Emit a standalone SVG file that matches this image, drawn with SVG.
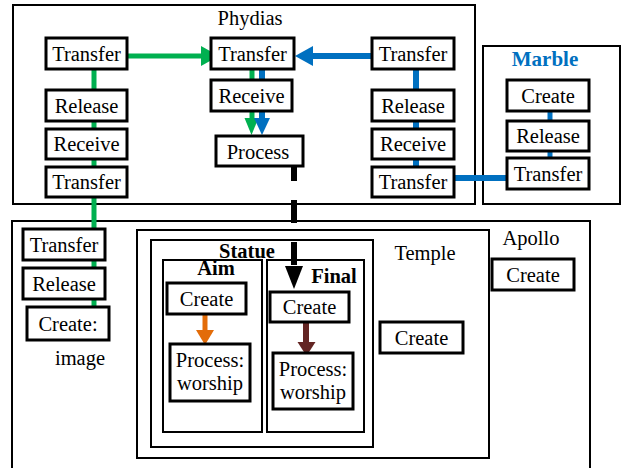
<svg xmlns="http://www.w3.org/2000/svg" width="621" height="468" viewBox="0 0 621 468" font-family="'Liberation Serif', 'Times New Roman', serif">
<style>
text{font-family:'Liberation Serif','Times New Roman',serif;font-size:20.5px;fill:#000;text-anchor:middle}
.b{font-weight:bold}
.box{fill:none;stroke:#000;stroke-width:2}
.node rect{fill:#fff;stroke:#000;stroke-width:3}
.g{stroke:#00b050;stroke-width:5;fill:none}
.bl{stroke:#0070c0;stroke-width:6;fill:none}
</style>
<rect width="621" height="468" fill="#fff"/>
<g id="containers">
<rect class="box" x="13" y="5" width="462" height="199"/>
<text x="250" y="25">Phydias</text>
<rect class="box" x="483" y="46" width="137" height="158"/>
<text x="545" y="66" class="b" style="fill:#0070c0;font-size:21px">Marble</text>
<rect class="box" x="12" y="221" width="578" height="260"/>
<text x="531" y="245">Apollo</text>
<rect class="box" x="137" y="230" width="352" height="228"/>
<text x="425" y="260">Temple</text>
<rect class="box" x="151" y="240" width="222" height="207"/>
<text x="247" y="258" class="b">Statue</text>
<rect class="box" x="163" y="260" width="99" height="172"/>
<text x="216" y="275" class="b">Aim</text>
<rect class="box" x="267" y="260" width="97" height="172"/>
<text x="334" y="283" class="b">Final</text>
<text x="80" y="365">image</text>
</g>
<g id="connectors">
<line class="g" x1="94" y1="69" x2="94" y2="308"/>
<line class="g" x1="127" y1="56" x2="203" y2="56"/>
<polygon points="201,46 219,56 201,66" fill="#00b050"/>
<line class="bl" x1="372" y1="56" x2="311" y2="56"/>
<polygon points="313,46 295,56 313,66" fill="#0070c0"/>
<line class="g" x1="252" y1="69" x2="252" y2="119"/>
<polygon points="244.5,118 251.5,135 258.5,118" fill="#00b050"/>
<line class="bl" x1="262" y1="69" x2="262" y2="119"/>
<polygon points="254,118 262,135 270,118" fill="#0070c0"/>
<line class="bl" x1="416" y1="69" x2="416" y2="167"/>
<line class="bl" x1="454" y1="178" x2="507" y2="178"/>
<line class="bl" x1="550" y1="111" x2="550" y2="158" style="stroke-width:5"/>
<line x1="294" y1="158" x2="294" y2="266" stroke="#000" stroke-width="6" stroke-dasharray="23 19"/>
<polygon points="285,266 303,266 294,289" fill="#000"/>
<line x1="205" y1="314" x2="205" y2="331" stroke="#e36c09" stroke-width="5"/>
<polygon points="196,330 214,330 205,345" fill="#e36c09"/>
<line x1="306" y1="322" x2="306" y2="343" stroke="#632523" stroke-width="6"/>
<polygon points="297.5,342 315.5,342 306.5,356" fill="#632523"/>
</g>
<g id="n-ph-transfer1" class="node"><rect x="46" y="38" width="81" height="31"/><text x="86.5" y="61">Transfer</text></g>
<g id="n-ph-release1" class="node"><rect x="46" y="90" width="81" height="31"/><text x="86.5" y="113">Release</text></g>
<g id="n-ph-receive1" class="node"><rect x="46" y="129" width="81" height="30"/><text x="86.5" y="151">Receive</text></g>
<g id="n-ph-transfer2" class="node"><rect x="46" y="167" width="81" height="30"/><text x="86.5" y="189">Transfer</text></g>
<g id="n-ph-transfer-c" class="node"><rect x="211" y="38" width="83" height="31"/><text x="252.5" y="61">Transfer</text></g>
<g id="n-ph-receive-c" class="node"><rect x="211" y="80" width="81" height="31"/><text x="251.5" y="103">Receive</text></g>
<g id="n-ph-process" class="node"><rect x="216" y="136" width="87" height="30"/><text x="258" y="159">Process</text></g>
<g id="n-ph-transfer3" class="node"><rect x="372" y="38" width="82" height="31"/><text x="413" y="61">Transfer</text></g>
<g id="n-ph-release3" class="node"><rect x="372" y="90" width="82" height="31"/><text x="413" y="113">Release</text></g>
<g id="n-ph-receive3" class="node"><rect x="372" y="129" width="82" height="30"/><text x="413" y="151">Receive</text></g>
<g id="n-ph-transfer4" class="node"><rect x="372" y="167" width="82" height="30"/><text x="413" y="189">Transfer</text></g>
<g id="n-m-create" class="node"><rect x="507" y="80" width="82" height="31"/><text x="548" y="103">Create</text></g>
<g id="n-m-release" class="node"><rect x="507" y="121" width="82" height="30"/><text x="548" y="143">Release</text></g>
<g id="n-m-transfer" class="node"><rect x="507" y="158" width="82" height="31"/><text x="548" y="181">Transfer</text></g>
<g id="n-a-transfer" class="node"><rect x="23" y="229" width="82" height="31"/><text x="64" y="252">Transfer</text></g>
<g id="n-a-release" class="node"><rect x="23" y="268" width="82" height="31"/><text x="64" y="291">Release</text></g>
<g id="n-a-create" class="node"><rect x="27" y="307" width="82" height="33"/><text x="68" y="331">Create:</text></g>
<g id="n-aim-create" class="node"><rect x="167" y="283" width="79" height="31"/><text x="206.5" y="306">Create</text></g>
<g id="n-aim-process" class="node"><rect x="170" y="344" width="80" height="57"/><text x="210" y="367">Process:</text><text x="210" y="390">worship</text></g>
<g id="n-final-create" class="node"><rect x="270" y="292" width="79" height="30"/><text x="309.5" y="314">Create</text></g>
<g id="n-final-process" class="node"><rect x="273" y="353" width="80" height="56"/><text x="313" y="376">Process:</text><text x="313" y="399">worship</text></g>
<g id="n-temple-create" class="node"><rect x="380" y="322" width="83" height="31"/><text x="421.5" y="345">Create</text></g>
<g id="n-apollo-create" class="node"><rect x="492" y="259" width="82" height="31"/><text x="533" y="282">Create</text></g>
</svg>
